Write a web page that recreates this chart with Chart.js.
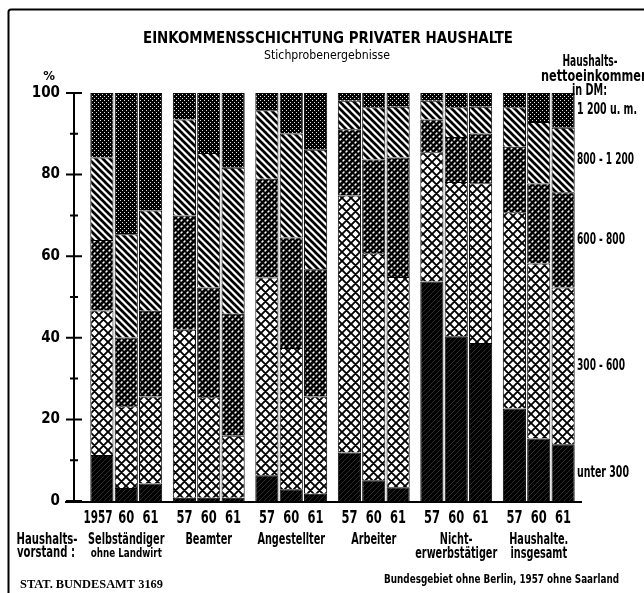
<!DOCTYPE html>
<html>
<head>
<meta charset="utf-8">
<script src="https://cdn.jsdelivr.net/npm/chart.js@4.4.1/dist/chart.umd.min.js"></script>
<style>
  html, body { margin: 0; padding: 0; background: #fff; }
</style>
</head>
<body>
<canvas id="chart" width="644" height="593"></canvas>
<script>
const groups = [['Selbständiger', 'ohne Landwirt'], ['Beamter'], ['Angestellter'], ['Arbeiter'], ['Nicht-', 'erwerbstätiger'], ['Haushalte.', 'insgesamt']];
const years = ['57', '60', '61'];
const bands = ['unter 300', '300 - 600', '600 - 800', '800 - 1 200', '1 200 u. m.'];

// % of households, one row per year (57, 60, 61), one entry per group
const unter300 = [
    [11.3, 0.8, 6.3, 11.9, 53.8, 22.7],
    [3.2, 0.8, 2.9, 5.1, 40.4, 15.3],
    [4.3, 0.8, 1.8, 3.4, 38.7, 13.9]
];
const dm300to600 = [
    [35.4, 41.2, 48.5, 63.0, 31.7, 48.1],
    [20.0, 24.6, 34.6, 55.6, 37.8, 42.9],
    [21.3, 15.2, 23.8, 51.5, 39.2, 38.4]
];
const dm600to800 = [
    [17.3, 28.0, 24.2, 16.2, 8.0, 16.0],
    [16.9, 26.9, 27.1, 23.0, 11.0, 19.6],
    [21.0, 29.9, 31.2, 29.3, 12.2, 23.4]
];
const dm800to1200 = [
    [20.2, 23.5, 16.8, 7.0, 4.6, 9.7],
    [25.3, 33.0, 25.5, 12.8, 7.3, 15.1],
    [24.6, 35.8, 29.3, 12.4, 6.5, 15.8]
];
const dm1200up = [
    [15.8, 6.5, 4.2, 1.9, 1.9, 3.5],
    [34.6, 14.7, 9.9, 3.5, 3.5, 7.1],
    [28.8, 18.3, 13.9, 3.4, 3.4, 8.5]
];
const bandValues = [unter300, dm300to600, dm600to800, dm800to1200, dm1200up];

const COND = '"DejaVu Sans Condensed", "Liberation Sans Narrow", "Roboto Condensed", "DejaVu Sans", sans-serif';
const SERIF = '"Liberation Serif", "DejaVu Serif", serif';

const canvas = document.getElementById('chart');
const ctx = canvas.getContext('2d');

// hatching patterns of the print
function makePattern(size, draw) {
    const c = document.createElement('canvas');
    c.width = c.height = size;
    draw(c.getContext('2d'), size);
    return ctx.createPattern(c, 'repeat');
}
function back(g, n) { // "\" lines
    for (const c of [-n, 0, n]) { g.moveTo(c - 1, -1); g.lineTo(c + n + 1, n + 1); }
}
function fwd(g, n) { // "/" lines
    for (const c of [0, n, 2 * n]) { g.moveTo(c + 1, -1); g.lineTo(c - n - 1, n + 1); }
}

const fills = [
    makePattern(5, (g, n) => {
        g.fillStyle = '#000'; g.fillRect(0, 0, n, n);
        g.strokeStyle = '#3c3c3c'; g.lineWidth = 0.7;
        g.beginPath(); fwd(g, n); g.stroke();
    }),
    makePattern(9, (g, n) => {
        g.fillStyle = '#fff'; g.fillRect(0, 0, n, n);
        g.strokeStyle = '#000'; g.lineWidth = 1.9;
        g.beginPath(); fwd(g, n); back(g, n); g.stroke();
    }),
    makePattern(6, (g, n) => {
        g.fillStyle = '#000'; g.fillRect(0, 0, n, n);
        g.strokeStyle = '#fff'; g.lineWidth = 1.5;
        g.beginPath(); fwd(g, n); g.stroke();
        g.strokeStyle = '#000'; g.lineWidth = 1.6;
        g.beginPath(); back(g, n); g.stroke();
    }),
    makePattern(7, (g, n) => {
        g.fillStyle = '#fff'; g.fillRect(0, 0, n, n);
        g.strokeStyle = '#000'; g.lineWidth = 2.7;
        g.beginPath(); back(g, n); g.stroke();
    }),
    makePattern(4, (g, n) => {
        g.fillStyle = '#000'; g.fillRect(0, 0, n, n);
        g.fillStyle = '#e0e0e0';
        g.fillRect(0, 0, 1, 1); g.fillRect(2, 2, 1, 1);
    })
];

const datasets = [];
bands.forEach((band, b) => {
    years.forEach((yr, y) => {
        datasets.push({
            label: band + ' / ' + yr,
            data: bandValues[b][y],
            stack: 'y' + y,
            backgroundColor: fills[b],
            borderColor: '#000',
            borderWidth: 1,
            categoryPercentage: 0.886,
            barPercentage: 0.95
        });
    });
});

// fit: target width in px, or a squeeze factor when below 2
function text(str, x, y, size, fit, align = 'center', family = COND, weight = 'bold') {
    ctx.save();
    ctx.font = `${weight} ${size}px ${family}`;
    ctx.textBaseline = 'middle';
    ctx.textAlign = align;
    ctx.fillStyle = '#000';
    const k = !fit ? 1 : fit < 2 ? fit : fit / ctx.measureText(str).width;
    ctx.translate(x, y);
    ctx.scale(k, 1);
    ctx.fillText(str, 0, 0);
    ctx.restore();
}

const decor = {
    id: 'decor',
    afterDraw(chart) {
        const { chartArea: a, scales: { x: xs, y: ys } } = chart;
        ctx.save();
        ctx.strokeStyle = '#000';
        ctx.lineWidth = 2;
        // frame
        ctx.beginPath();
        ctx.moveTo(8.5, 593); ctx.lineTo(8.5, 12); ctx.quadraticCurveTo(8.5, 9.5, 11, 9.5); ctx.lineTo(644, 9.5);
        ctx.stroke();
        // y axis with ticks crossing the line
        const ax = a.left - 11;
        ctx.beginPath();
        ctx.moveTo(ax, ys.getPixelForValue(100)); ctx.lineTo(ax, ys.getPixelForValue(0));
        for (let v = 0; v <= 100; v += 10) {
            const py = ys.getPixelForValue(v);
            const major = v % 20 === 0;
            ctx.moveTo(ax - (major ? 8 : 4), py);
            ctx.lineTo(ax + (major ? 8 : 4), py);
        }
        ctx.stroke();
        // base line
        ctx.beginPath();
        ctx.moveTo(65, ys.getPixelForValue(0) + 1);
        ctx.lineTo(a.right + 2, ys.getPixelForValue(0) + 1);
        ctx.stroke();
        ctx.restore();

        text('EINKOMMENSSCHICHTUNG PRIVATER HAUSHALTE', 328, 39.5, 15, 370);
        text('Stichprobenergebnisse', 327, 56, 13, 126, 'center', COND, 'normal');
        text('%', 49, 77, 13);

        text('Haushalts-', 590, 62, 15, 55);
        text('nettoeinkommen', 541, 77, 15, 108, 'left');
        text('in DM:', 572, 91, 15, 35, 'left');

        // band names beside the last bar, at the middle of each segment
        const last = groups.length - 1;
        let base = 0;
        bands.forEach((band, b) => {
            const v = bandValues[b][years.length - 1][last];
            text(band, a.right - 3, ys.getPixelForValue(base + v / 2), 15, [52, 48, 48, 57, 60][b], 'left');
            base += v;
        });

        // year under every bar, group name under every group
        years.forEach((yr, y) => {
            const meta = chart.getDatasetMeta(y);
            meta.data.forEach((bar, g) => {
                const s = g === 0 && y === 0 ? '19' + yr : yr;
                text(s, bar.x - (s.length === 4 ? 4 : 0), 518, 18, s.length === 4 ? 29 : 16);
            });
        });
        groups.forEach((lines, g) => {
            const cx = xs.getPixelForValue(g);
            lines.forEach((line, i) => {
                const small = g === 0 && i === 1;
                text(line, cx, 540 + i * 14, small ? 12.5 : 15, small ? 0.78 : 0.72);
            });
        });
        text('Haushalts-', 47, 540, 15, 61);
        text('vorstand :', 46, 553, 15, 58);

        text('STAT. BUNDESAMT 3169', 20, 585, 12, 143, 'left', SERIF);
        text('Bundesgebiet ohne Berlin, 1957 ohne Saarland', 619, 580, 12, 235, 'right');
    }
};

new Chart(canvas, {
    type: 'bar',
    data: { labels: groups.map(g => g.join(' ')), datasets },
    options: {
        responsive: false,
        animation: false,
        devicePixelRatio: 1,
        layout: { padding: { top: 93, bottom: 92, left: 0, right: 64 } },
        plugins: { legend: { display: false }, tooltip: { enabled: false }, title: { display: false } },
        scales: {
            x: { display: false, stacked: true },
            y: {
                stacked: true,
                min: 0,
                max: 100,
                afterFit: s => { s.width = 85; },
                grid: { display: false, drawTicks: false },
                border: { display: false },
                ticks: { stepSize: 20, padding: 25, color: '#000', font: { family: COND, size: 15, weight: 'bold' } }
            }
        }
    },
    plugins: [decor]
});
</script>
</body>
</html>
